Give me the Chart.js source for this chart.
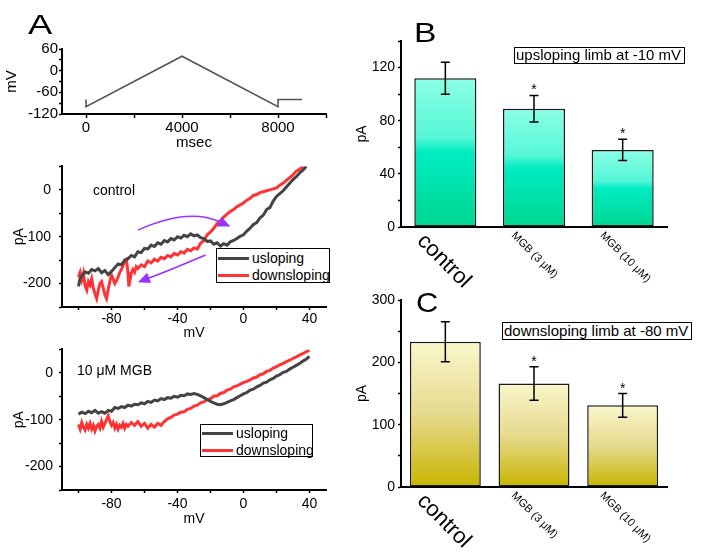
<!DOCTYPE html>
<html lang="en">
<head>
<meta charset="UTF-8">
<title>Ramp IV hysteresis and MGB</title>
<script src="https://cdn.jsdelivr.net/npm/chart.js@4.4.0/dist/chart.umd.min.js"></script>
<style>
  body { margin: 0; background: #fff; font-family: "Liberation Sans", Arial, sans-serif; }
  #fig { position: relative; width: 702px; height: 555px; overflow: hidden; }
  canvas { position: absolute; }
  .txt { position: absolute; white-space: nowrap; color: #000; line-height: 1; }
  .panel { font-size: 28px; transform-origin: left top; }
  .box { position: absolute; border: 1.5px solid #000; box-sizing: border-box; font-size: 15px; padding-left: 1px; white-space: nowrap; background: #fff; }
  .leg { position: absolute; border: 1px solid #000; box-sizing: border-box; background: #fff; font-size: 14px; }
  .leg .ln { position: absolute; left: 1px; width: 31px; height: 3px; }
  .leg .lb { position: absolute; left: 35px; line-height: 1; white-space: nowrap; }
</style>
</head>
<body>
<div id="fig">
  <canvas id="cProto" width="340" height="125" style="left:0;top:30px"></canvas>
  <canvas id="cCtl" width="340" height="195" style="left:0;top:150px"></canvas>
  <canvas id="cMgb" width="340" height="200" style="left:0;top:335px"></canvas>
  <canvas id="cUp" width="362" height="300" style="left:340px;top:0"></canvas>
  <canvas id="cDown" width="362" height="275" style="left:340px;top:280px"></canvas>

  <div class="txt panel" style="left:28px;top:11px;transform:scaleX(1.3)">A</div>
  <div class="txt panel" style="left:414px;top:19px;transform:scaleX(1.2)">B</div>
  <div class="txt panel" style="left:416px;top:289px;transform:scaleX(1.1)">C</div>

  <div class="txt" style="left:93px;top:183px;font-size:14px">control</div>
  <div class="txt" style="left:77px;top:363px;font-size:14px">10 μM MGB</div>

  <div class="leg" style="left:216px;top:248px;width:114px;height:35px">
    <div class="ln" style="top:7.5px;background:#444"></div><div class="lb" style="top:1.5px">usloping</div>
    <div class="ln" style="top:24.5px;background:#ff3333"></div><div class="lb" style="top:18.5px">downsloping</div>
  </div>
  <div class="leg" style="left:200px;top:424px;width:113px;height:33px">
    <div class="ln" style="top:6.5px;background:#444"></div><div class="lb" style="top:0.5px">usloping</div>
    <div class="ln" style="top:23.5px;background:#ff3333"></div><div class="lb" style="top:17.5px">downsloping</div>
  </div>

  <div class="box" style="left:514px;top:47px;width:171px;height:17px;line-height:14px">upsloping limb at -10 mV</div>
  <div class="box" style="left:502px;top:322px;width:190px;height:18px;line-height:15px">downsloping limb at -80 mV</div>
</div>

<script>
// voltage ramp protocol
const protoTime = [0, 0, 4000, 8000, 8000, 9000];
const protoVolt = [-80, -100, 40, -100, -80, -80];
const protoXTicks = [0, 2000, 4000, 6000, 8000, 10000];
const protoXLabels = [0, 4000, 8000];
const protoYTicks = [-120, -90, -60, -30, 0, 30, 60];
const protoYLabels = [-120, -60, 0, 60];

// IV plots
const ivXTicks = [-100, -80, -60, -40, -20, 0, 20, 40];
const ivXLabels = [-80, -40, 0, 40];
const ivYTicks = [-250, -200, -150, -100, -50, 0, 50];
const ivYLabels = [-200, -100, 0];

// control, upsloping limb (mV, pA)
const ctlUpMv = [-100, -99, -98, -96, -94, -92, -90, -88, -86, -84, -82, -80, -78, -76, -74, -72, -70, -68, -66, -64,
  -62, -60, -58, -56, -54, -52, -50, -48, -46, -44, -42, -40, -38, -36, -34, -32, -30, -28, -26, -24,
  -22, -20, -18, -16, -14, -12, -10, -8, -6, -4, -2, 0, 2, 4, 6, 8, 10, 12, 14, 16,
  18, 20, 22, 24, 26, 28, 30, 32, 34, 36, 38];
const ctlUpPa = [-206, -188, -184, -175, -178, -170, -173, -168, -177, -172, -181, -174, -166, -158, -160, -150, -147, -140, -143, -132,
  -134, -125, -126, -118, -121, -113, -116, -108, -111, -104, -107, -100, -103, -97, -100, -94, -98, -96, -102, -104,
  -110, -109, -116, -113, -120, -115, -118, -111, -108, -104, -99, -96, -88, -82, -74, -70, -60, -54, -42, -38,
  -24, -14, -8, -2, 6, 14, 22, 28, 36, 42, 50];

// control, downsloping limb
const ctlDownMv = [-100, -99, -98, -97, -96, -95, -94, -93, -92, -91, -90, -89, -88, -87, -86, -85, -84, -83, -82, -81,
  -80, -79, -78, -77, -76, -75, -74, -73, -72, -71, -70, -69.5, -69, -68, -67, -66, -65, -64, -62, -60,
  -58, -56, -54, -52, -50, -48, -46, -44, -42, -40, -38, -36, -34, -32, -30, -28, -26, -24, -22, -20,
  -18, -16, -14, -12, -10, -8, -6, -4, -2, 0, 2, 4, 6, 8, 10, 12, 14, 16, 18, 20,
  22, 24, 26, 28, 30, 32, 34, 36, 38];
const ctlDownPa = [-186, -176, -192, -178, -205, -214, -196, -203, -190, -210, -222, -232, -214, -200, -196, -210, -224, -232, -212, -196,
  -182, -190, -200, -194, -186, -176, -170, -162, -150, -148, -176, -206, -196, -178, -170, -176, -164, -168, -160, -164,
  -152, -156, -148, -152, -144, -147, -140, -143, -136, -139, -132, -135, -127, -130, -124, -126, -114, -108, -96, -90,
  -82, -72, -66, -58, -52, -46, -42, -36, -32, -28, -22, -18, -12, -10, -6, -4, -2, 0, 2, 4,
  10, 14, 20, 26, 32, 40, 44, 50, 52];

// 10 uM MGB, upsloping limb
const mgbUpMv = [-100, -98, -96, -94, -92, -90, -88, -86, -84, -82, -80, -78, -76, -74, -72, -70, -68, -66, -64, -62,
  -60, -58, -56, -54, -52, -50, -48, -46, -44, -42, -40, -38, -36, -34, -32, -30, -28, -26, -24, -22,
  -20, -18, -16, -14, -12, -10, -8, -6, -4, -2, 0, 2, 4, 6, 8, 10, 12, 14, 16, 18,
  20, 22, 24, 26, 28, 30, 32, 34, 36, 38, 40];
const mgbUpPa = [-88, -84, -87, -82, -85, -80, -86, -83, -86, -80, -82, -74, -76, -72, -74, -69, -71, -67, -68, -64,
  -66, -61, -63, -58, -60, -55, -57, -53, -54, -50, -52, -48, -49, -45, -46, -44, -46, -49, -53, -57,
  -61, -64, -67, -68, -66, -63, -60, -57, -53, -49, -45, -42, -37, -35, -30, -27, -22, -20, -15, -12,
  -7, -4, 1, 3, 8, 12, 16, 20, 25, 29, 35];

// 10 uM MGB, downsloping limb
const mgbDownMv = [-100, -99, -98, -97, -96, -95, -94, -93, -92, -91, -90, -89, -88, -87, -86, -85, -84, -83, -82, -81,
  -80, -79, -78, -77, -76, -75, -74, -73, -72, -71, -70, -68, -66, -64, -62, -60, -58, -56, -54, -52,
  -50, -48, -46, -44, -42, -40, -38, -36, -34, -32, -30, -28, -26, -24, -22, -20, -18, -16, -14, -12,
  -10, -8, -6, -4, -2, 0, 2, 4, 6, 8, 10, 12, 14, 16, 18, 20, 22, 24, 26, 28,
  30, 32, 34, 36, 38, 40];
const mgbDownPa = [-110, -120, -106, -116, -122, -110, -118, -108, -120, -112, -124, -114, -110, -118, -104, -116, -108, -100, -92, -104,
  -112, -106, -118, -110, -120, -112, -116, -108, -118, -110, -114, -106, -112, -104, -114, -108, -118, -110, -116, -108,
  -112, -104, -98, -95, -90, -88, -84, -83, -78, -76, -71, -69, -64, -62, -57, -55, -50, -49, -44, -42,
  -37, -35, -30, -28, -24, -21, -18, -15, -11, -9, -4, -2, 3, 5, 10, 13, 17, 20, 24, 27,
  31, 34, 38, 41, 45, 48];

// bar panels
const barCats = ['control', 'MGB (3 μM)', 'MGB (10 μM)'];
const upVals = [112, 89, 58];
const upErr = [12, 10, 8];
const downVals = [233, 166, 131];
const downErr = [32, 27, 19];
const starFlags = [false, true, true];
const upYTicks = [0, 20, 40, 60, 80, 100, 120, 140];
const upYLabels = [0, 40, 80, 120];
const downYTicks = [0, 50, 100, 150, 200, 250, 300];
const downYLabels = [0, 100, 200, 300];

Chart.defaults.font.family = '"Liberation Sans", Arial, sans-serif';
Chart.defaults.color = '#000';

function pts(xs, ys) {
    return xs.map((x, i) => ({ x: x, y: ys[i] }));
}

// axis with fixed ticks and a forced size so the plot area lands where it should
function axis(o) {
    return {
        type: o.type || 'linear',
        position: o.pos,
        min: o.min,
        max: o.max,
        offset: o.type === 'category',
        afterBuildTicks: o.ticks ? (s => { s.ticks = o.ticks.map(v => ({ value: v })); }) : undefined,
        afterFit: s => { if (o.pos === 'left') s.width = o.size; else s.height = o.size; },
        ticks: {
            display: o.labels !== null,
            autoSkip: false, maxRotation: 0, minRotation: 0,
            padding: o.pad || 0,
            color: '#000',
            font: { size: o.font },
            callback: v => (o.labels && o.labels.includes(v)) ? String(v) : ''
        },
        grid: { display: o.tl > 0, drawOnChartArea: false, drawTicks: true, tickLength: o.tl || 0, tickColor: '#000', tickWidth: 1.5 },
        border: { display: true, color: '#000', width: 2 },
        title: {
            display: !!o.title, text: o.title, color: '#000',
            font: { size: o.font },
            padding: { top: o.tpad || 0, bottom: o.tpad || 0 }
        }
    };
}

const baseOpts = {
    responsive: false,
    animation: false,
    events: [],
    plugins: { legend: { display: false }, tooltip: { enabled: false } }
};

// purple arrows on the control IV plot
const arrowPlugin = {
    id: 'arrows',
    afterDatasetsDraw(chart) {
        const { ctx, scales: { x, y } } = chart;
        const P = a => [x.getPixelForValue(a[0]), y.getPixelForValue(a[1])];
        const draw = (a, b, c) => {
            const p0 = P(a), p1 = P(b), p2 = P(c);
            const ang = Math.atan2(p2[1] - p1[1], p2[0] - p1[0]);
            const len = 12, hw = 5.5;
            const bx = p2[0] - len * Math.cos(ang), by = p2[1] - len * Math.sin(ang);
            ctx.beginPath();
            ctx.moveTo(p0[0], p0[1]);
            ctx.quadraticCurveTo(p1[0], p1[1], bx, by);
            ctx.stroke();
            ctx.beginPath();
            ctx.moveTo(p2[0], p2[1]);
            ctx.lineTo(bx - hw * Math.sin(ang), by + hw * Math.cos(ang));
            ctx.lineTo(bx + hw * Math.sin(ang), by - hw * Math.cos(ang));
            ctx.closePath();
            ctx.fill();
        };
        ctx.save();
        ctx.strokeStyle = '#9933ff';
        ctx.fillStyle = '#9933ff';
        ctx.lineWidth = 1.6;
        draw([-64, -86], [-34, -38], [-8, -78]);
        draw([-23, -139], [-45, -172], [-64, -197]);
        ctx.restore();
    }
};

// error bars, asterisks and slanted category names
function barExtras(vals, errs) {
    return {
        id: 'barExtras',
        afterDatasetsDraw(chart) {
            const { ctx, scales: { y }, chartArea } = chart;
            const bars = chart.getDatasetMeta(0).data;
            ctx.save();
            ctx.strokeStyle = '#000';
            ctx.fillStyle = '#000';
            ctx.lineWidth = 1.5;
            bars.forEach((b, i) => {
                const t = y.getPixelForValue(vals[i] + errs[i]);
                const u = y.getPixelForValue(vals[i] - errs[i]);
                ctx.beginPath();
                ctx.moveTo(b.x, t); ctx.lineTo(b.x, u);
                ctx.moveTo(b.x - 4.5, t); ctx.lineTo(b.x + 4.5, t);
                ctx.moveTo(b.x - 4.5, u); ctx.lineTo(b.x + 4.5, u);
                ctx.stroke();
                if (starFlags[i]) {
                    ctx.font = '14px "Liberation Sans"';
                    ctx.textAlign = 'center';
                    ctx.textBaseline = 'alphabetic';
                    ctx.fillText('*', b.x, t - 1);
                }
                ctx.save();
                ctx.translate(b.x - 17, chartArea.bottom + 3);
                ctx.rotate(Math.PI / 4);
                ctx.font = (i === 0 ? '22px' : '11px') + ' "Liberation Sans"';
                ctx.textAlign = 'left';
                ctx.textBaseline = 'top';
                ctx.fillText(barCats[i], 0, 0);
                ctx.restore();
            });
            ctx.restore();
        }
    };
}

function barGradient(stops) {
    return c => {
        const chart = c.chart;
        if (!chart.chartArea || c.type !== 'data') return stops[0][1];
        const y = chart.scales.y;
        const g = chart.ctx.createLinearGradient(0, y.getPixelForValue(c.raw), 0, y.getPixelForValue(0));
        stops.forEach(s => g.addColorStop(s[0], s[1]));
        return g;
    };
}

// protocol
new Chart(document.getElementById('cProto'), {
    type: 'scatter',
    data: { datasets: [{ data: pts(protoTime, protoVolt), showLine: true, borderColor: '#555', borderWidth: 1.6, pointRadius: 0 }] },
    options: Object.assign({}, baseOpts, {
        layout: { padding: { top: 19, right: 14, left: 0, bottom: 0 } },
        scales: {
            x: axis({ pos: 'bottom', min: -1000, max: 10000, ticks: protoXTicks, labels: protoXLabels, size: 41, font: 15, tl: 4, pad: 1, title: 'msec', tpad: 3 }),
            y: axis({ pos: 'left', min: -120, max: 60, ticks: protoYTicks, labels: protoYLabels, size: 62, font: 15, tl: 3, pad: 1, title: 'mV', tpad: 3 })
        }
    })
});

function ivChart(id, up, down, o, plugins) {
    return new Chart(document.getElementById(id), {
        type: 'scatter',
        data: {
            datasets: [
                { data: up, showLine: true, borderColor: '#444', borderWidth: 3, pointRadius: 0 },
                { data: down, showLine: true, borderColor: '#ff3333', borderWidth: 3, pointRadius: 0 }
            ]
        },
        options: Object.assign({}, baseOpts, {
            layout: { padding: { top: o.top, right: 14, left: 0, bottom: 0 } },
            scales: {
                x: axis({ pos: 'bottom', min: -110, max: 50, ticks: ivXTicks, labels: ivXLabels, size: o.xs, font: 14, tl: 3, pad: o.xpad, title: 'mV', tpad: o.xt }),
                y: axis({ pos: 'left', min: -250, max: 50, ticks: ivYTicks, labels: ivYLabels, size: 62, font: 14, tl: 3, pad: o.ypad, title: 'pA', tpad: o.yt })
            }
        }),
        plugins: plugins
    });
}

ivChart('cCtl', pts(ctlUpMv, ctlUpPa), pts(ctlDownMv, ctlDownPa), { top: 7, xs: 38, xpad: 1, xt: 3.5, ypad: 8, yt: 10.5 }, [arrowPlugin]);
ivChart('cMgb', pts(mgbUpMv, mgbUpPa), pts(mgbDownMv, mgbDownPa), { top: 6, xs: 45, xpad: 3, xt: 7.5, ypad: 6, yt: 10.5 }, []);

function barChart(id, vals, errs, o) {
    return new Chart(document.getElementById(id), {
        type: 'bar',
        data: {
            labels: barCats,
            datasets: [{
                data: vals,
                backgroundColor: barGradient(o.stops),
                borderColor: '#1a1a1a',
                borderWidth: 1.5,
                borderSkipped: false,
                barPercentage: o.bp,
                categoryPercentage: 1
            }]
        },
        options: Object.assign({}, baseOpts, {
            layout: { padding: { top: o.top, right: 35, left: 0, bottom: 0 } },
            scales: {
                x: axis({ type: 'category', pos: 'bottom', labels: null, size: o.xs, font: 14, tl: 0 }),
                y: axis({ pos: 'left', min: 0, max: o.max, ticks: o.ticks, labels: o.labels, size: 61, font: 14, tl: 3, pad: 3, title: 'pA', tpad: 13.5 })
            }
        }),
        plugins: [barExtras(vals, errs)]
    });
}

barChart('cUp', upVals, upErr, {
    top: 41, xs: 73, max: 140, ticks: upYTicks, labels: upYLabels, bp: 0.7,
    stops: [[0, '#8cffe6'], [0.4, '#55f7d6'], [0.5, '#00ecc3'], [1, '#00d690']]
});
barChart('cDown', downVals, downErr, {
    top: 20, xs: 68, max: 300, ticks: downYTicks, labels: downYLabels, bp: 0.8,
    stops: [[0, '#faf6cb'], [0.5, '#e6da8e'], [1, '#c9b500']]
});
</script>
</body>
</html>
